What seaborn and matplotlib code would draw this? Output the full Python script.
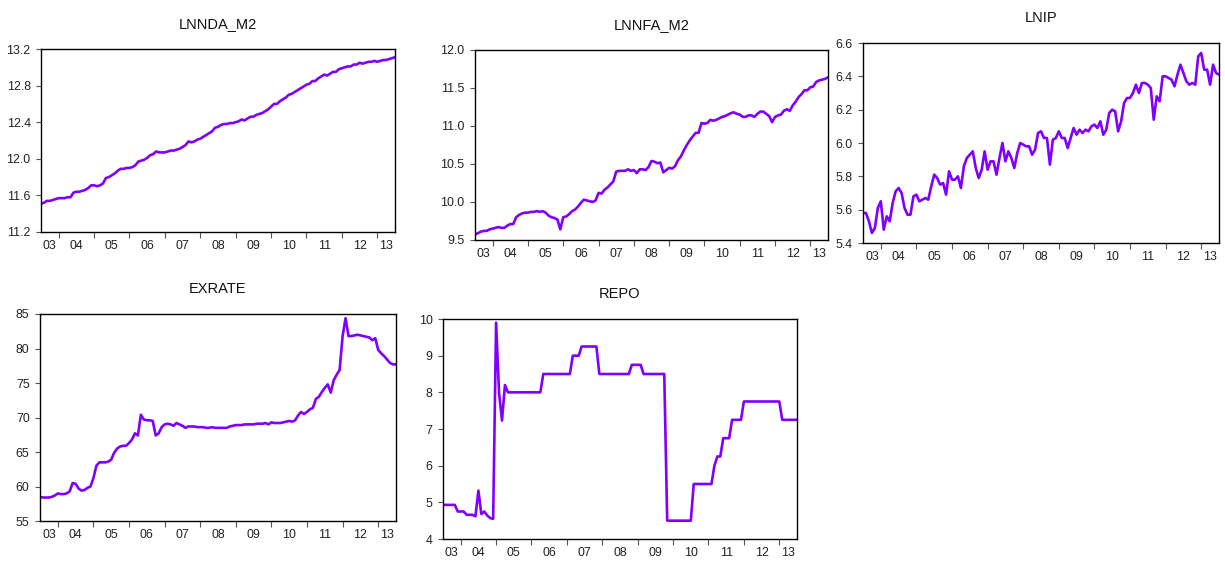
import matplotlib
matplotlib.use("Agg")
import matplotlib.pyplot as plt
import numpy as np
import pandas as pd
import seaborn as sns

# monthly data, 2003M07 - 2013M07
lnnda_m2 = [
    11.51, 11.52, 11.54, 11.54, 11.55, 11.56,
    11.57, 11.57, 11.57, 11.58, 11.58, 11.63, 11.64, 11.64, 11.65, 11.66, 11.68, 11.71,
    11.71, 11.70, 11.71, 11.73, 11.79, 11.80, 11.82, 11.84, 11.87, 11.89, 11.89, 11.90,
    11.90, 11.91, 11.93, 11.97, 11.98, 11.99, 12.01, 12.04, 12.05, 12.08, 12.07, 12.07,
    12.07, 12.08, 12.09, 12.09, 12.10, 12.11, 12.13, 12.15, 12.19, 12.18, 12.19, 12.21,
    12.22, 12.24, 12.26, 12.28, 12.30, 12.34, 12.35, 12.37, 12.38, 12.38, 12.39, 12.39,
    12.40, 12.41, 12.43, 12.42, 12.44, 12.46, 12.46, 12.48, 12.49, 12.50, 12.52, 12.54,
    12.57, 12.60, 12.60, 12.63, 12.65, 12.67, 12.70, 12.71, 12.73, 12.75, 12.77, 12.79,
    12.81, 12.82, 12.85, 12.85, 12.88, 12.90, 12.92, 12.91, 12.93, 12.95, 12.95, 12.98,
    12.99, 13.00, 13.01, 13.01, 13.03, 13.03, 13.05, 13.04, 13.05, 13.06, 13.06, 13.07,
    13.06, 13.07, 13.08, 13.08, 13.09, 13.10, 13.11,
]
lnnfa_m2 = [
    9.57, 9.59, 9.61, 9.62, 9.62, 9.64,
    9.65, 9.66, 9.67, 9.66, 9.66, 9.69, 9.71, 9.71, 9.80, 9.83, 9.85, 9.86,
    9.86, 9.87, 9.87, 9.88, 9.87, 9.88, 9.86, 9.82, 9.80, 9.79, 9.77, 9.64,
    9.80, 9.81, 9.84, 9.88, 9.90, 9.94, 9.99, 10.03, 10.02, 10.01, 10.00, 10.02,
    10.12, 10.11, 10.16, 10.19, 10.23, 10.27, 10.40, 10.41, 10.41, 10.41, 10.43, 10.41,
    10.42, 10.38, 10.43, 10.43, 10.42, 10.46, 10.54, 10.53, 10.51, 10.52, 10.39, 10.42,
    10.45, 10.44, 10.47, 10.55, 10.60, 10.68, 10.75, 10.81, 10.86, 10.91, 10.91, 11.04,
    11.03, 11.04, 11.08, 11.07, 11.08, 11.10, 11.12, 11.13, 11.15, 11.17, 11.18, 11.16,
    11.15, 11.12, 11.12, 11.14, 11.14, 11.12, 11.16, 11.19, 11.19, 11.16, 11.13, 11.05,
    11.12, 11.14, 11.15, 11.20, 11.22, 11.20, 11.27, 11.32, 11.38, 11.42, 11.47, 11.47,
    11.51, 11.52, 11.58, 11.60, 11.61, 11.62, 11.64,
]
lnip = [
    5.58, 5.58, 5.53, 5.46, 5.49, 5.61,
    5.65, 5.48, 5.56, 5.53, 5.64, 5.71, 5.73, 5.70, 5.61, 5.57, 5.57, 5.68,
    5.69, 5.65, 5.66, 5.67, 5.66, 5.74, 5.81, 5.79, 5.75, 5.76, 5.69, 5.83,
    5.78, 5.78, 5.80, 5.73, 5.86, 5.91, 5.93, 5.95, 5.85, 5.79, 5.84, 5.95,
    5.84, 5.89, 5.89, 5.81, 5.91, 6.00, 5.89, 5.95, 5.91, 5.85, 5.94, 6.00,
    5.99, 5.98, 5.98, 5.93, 5.96, 6.06, 6.07, 6.03, 6.03, 5.87, 6.02, 6.03,
    6.07, 6.03, 6.03, 5.97, 6.03, 6.09, 6.05, 6.08, 6.06, 6.08, 6.07, 6.10,
    6.11, 6.09, 6.13, 6.05, 6.08, 6.18, 6.20, 6.19, 6.07, 6.13, 6.24, 6.27,
    6.27, 6.30, 6.35, 6.30, 6.36, 6.36, 6.35, 6.33, 6.14, 6.28, 6.25, 6.40,
    6.40, 6.39, 6.38, 6.34, 6.41, 6.47, 6.42, 6.37, 6.35, 6.36, 6.35, 6.52,
    6.54, 6.44, 6.44, 6.35, 6.47, 6.42, 6.41,
]
exrate = [
    58.5, 58.4, 58.4, 58.4, 58.5, 58.7,
    59.0, 58.9, 58.9, 59.0, 59.3, 60.5, 60.4, 59.7, 59.4, 59.5, 59.8, 60.0,
    61.2, 63.0, 63.5, 63.5, 63.5, 63.6, 63.9, 64.9, 65.5, 65.8, 65.9, 65.9,
    66.3, 66.8, 67.7, 67.4, 70.4, 69.7, 69.6, 69.6, 69.5, 67.4, 67.7, 68.6,
    69.0, 69.1, 69.0, 68.8, 69.2, 69.0, 68.8, 68.5, 68.7, 68.7, 68.7, 68.6,
    68.6, 68.6, 68.5, 68.5, 68.6, 68.5, 68.5, 68.5, 68.5, 68.5, 68.7, 68.8,
    68.9, 68.9, 68.9, 69.0, 69.0, 69.0, 69.0, 69.1, 69.1, 69.1, 69.2, 69.0,
    69.3, 69.2, 69.2, 69.2, 69.3, 69.4, 69.5, 69.4, 69.6, 70.3, 70.8, 70.5,
    70.8, 71.2, 71.4, 72.7, 73.0, 73.7, 74.3, 74.8, 73.6, 75.4, 76.2, 76.9,
    81.8, 84.4, 81.8, 81.8, 81.9, 82.0, 81.9, 81.8, 81.7, 81.6, 81.2, 81.5,
    79.8, 79.3, 78.9, 78.4, 77.9, 77.7, 77.7,
]
repo = [
    4.93, 4.93, 4.93, 4.93, 4.93, 4.75,
    4.75, 4.75, 4.66, 4.66, 4.66, 4.62, 5.32, 4.68, 4.75, 4.64, 4.57, 4.55,
    9.90, 7.98, 7.23, 8.20, 8.00, 8.00, 8.00, 8.00, 8.00, 8.00, 8.00, 8.00,
    8.00, 8.00, 8.00, 8.00, 8.50, 8.50, 8.50, 8.50, 8.50, 8.50, 8.50, 8.50,
    8.50, 8.50, 9.00, 9.00, 9.00, 9.25, 9.25, 9.25, 9.25, 9.25, 9.25, 8.50,
    8.50, 8.50, 8.50, 8.50, 8.50, 8.50, 8.50, 8.50, 8.50, 8.50, 8.75, 8.75,
    8.75, 8.75, 8.50, 8.50, 8.50, 8.50, 8.50, 8.50, 8.50, 8.50, 4.50, 4.50,
    4.50, 4.50, 4.50, 4.50, 4.50, 4.50, 4.50, 5.50, 5.50, 5.50, 5.50, 5.50,
    5.50, 5.50, 6.00, 6.25, 6.25, 6.75, 6.75, 6.75, 7.25, 7.25, 7.25, 7.25,
    7.75, 7.75, 7.75, 7.75, 7.75, 7.75, 7.75, 7.75, 7.75, 7.75, 7.75, 7.75,
    7.75, 7.25, 7.25, 7.25, 7.25, 7.25, 7.25,
]

year_labels = ["03", "04", "05", "06", "07", "08", "09", "10", "11", "12", "13"]

t = 2003.5 + np.arange(len(lnnda_m2)) / 12.0
df = pd.DataFrame({"t": t, "LNNDA_M2": lnnda_m2, "LNNFA_M2": lnnfa_m2,
                   "LNIP": lnip, "EXRATE": exrate, "REPO": repo})

sns.set_style("white")
plt.rcParams["font.family"] = ["Liberation Sans", "DejaVu Sans"]

W, H = 1225, 565
fig = plt.figure(figsize=(W / 100, H / 100), dpi=100)

# panel boxes in pixels: left, top, right, bottom
panels = [
    ("LNNDA_M2", (41, 49, 395, 232), (11.2, 13.2), np.arange(11.2, 13.21, 0.4), "{:.1f}"),
    ("LNNFA_M2", (475, 50, 828, 240), (9.5, 12.0), np.arange(9.5, 12.01, 0.5), "{:.1f}"),
    ("LNIP", (863, 43, 1219, 243), (5.4, 6.6), np.arange(5.4, 6.61, 0.2), "{:.1f}"),
    ("EXRATE", (40, 314, 396, 521), (55, 85), np.arange(55, 86, 5), "{:.0f}"),
    ("REPO", (443, 319, 797, 539), (4, 10), np.arange(4, 11, 1), "{:.0f}"),
]

line_color = "#8000ff"
t0, t1 = t[0], t[-1]
centers = [(max(y, t0) + min(y + 1, t1)) / 2 for y in range(2003, 2014)]

for name, (l, tp, r, b), ylim, yt, fmt in panels:
    ax = fig.add_axes([l / W, 1 - b / H, (r - l) / W, (b - tp) / H])
    sns.lineplot(data=df, x="t", y=name, ax=ax, color=line_color, linewidth=1.9)
    ax.set_xlim(t0, t1)
    ax.set_ylim(*ylim)
    ax.set_yticks(yt)
    ax.set_yticklabels([fmt.format(v) for v in yt])
    ax.set_xticks(range(2004, 2014))
    ax.set_xticklabels([])
    ax.set_xticks(centers, minor=True)
    ax.set_xticklabels(year_labels, minor=True)
    ax.tick_params(axis="x", which="major", direction="out", length=4, width=0.8,
                   color="#555555", bottom=True)
    ax.tick_params(axis="x", which="minor", length=0, pad=6, labelsize=8.9, labelcolor="#222222")
    ax.tick_params(axis="y", direction="out", length=3.5, width=0.8, color="#555555",
                   left=True, pad=4, labelsize=8.9, labelcolor="#222222")
    ax.set_xlabel("")
    ax.set_ylabel("")
    for s in ax.spines.values():
        s.set_color("black")
        s.set_linewidth(1.0)
    ax.set_title(name, fontsize=10.5, pad=15, color="#111111")

fig.savefig("out.png", dpi=100)
